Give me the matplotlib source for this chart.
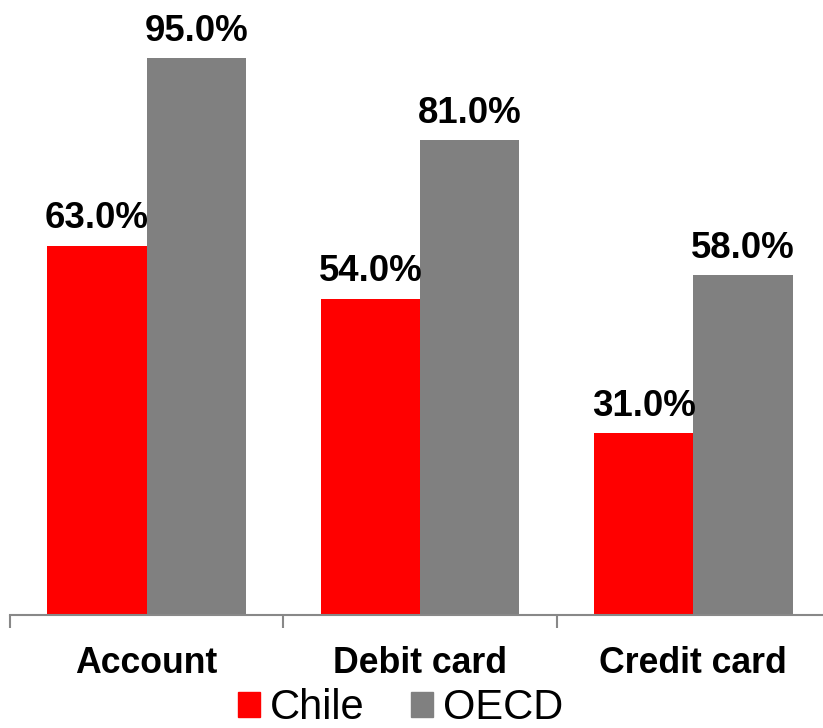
import numpy as np
import matplotlib
matplotlib.use("Agg")
import matplotlib.pyplot as plt
from matplotlib.patches import Patch

## Data

categories = ["Account", "Debit card", "Credit card"]
chile = [63.0, 54.0, 31.0]
oecd = [95.0, 81.0, 58.0]

plt.rcParams['font.family'] = ['Liberation Sans', 'DejaVu Sans']

fig = plt.figure(figsize=(8.23, 7.28), dpi=100)
ax = fig.add_axes([10/823, 113/728, 820/823, 586/728])

x = np.arange(len(categories))
w = 0.363
b1 = ax.bar(x - w/2, chile, w, color="#FF0000", label="Chile")
b2 = ax.bar(x + w/2, oecd, w, color="#808080", label="OECD")

for bars, vals in ((b1, chile), (b2, oecd)):
    for r, v in zip(bars, vals):
        ax.text(r.get_x() + r.get_width()/2, v + 3.0, "%.1f%%" % v,
                ha="center", va="baseline", fontsize=26.4, fontweight="bold")

ax.set_xlim(-0.5, 2.5)
ax.set_ylim(0, 100)
for s in ["top", "right", "left"]:
    ax.spines[s].set_visible(False)
ax.spines["bottom"].set_color("#888888")
ax.spines["bottom"].set_linewidth(1.5)
ax.set_yticks([])

# tick marks at group boundaries, labels at centers
ax.set_xticks([-0.5, 0.5, 1.5, 2.5])
ax.set_xticklabels([])
ax.tick_params(axis="x", which="major", length=9, color="#888888", width=1.5)
ax.set_xticks(x, minor=True)
ax.set_xticklabels(categories, minor=True, fontsize=25.7, fontweight="bold")
ax.tick_params(axis="x", which="minor", length=0, pad=22)

handles = [Patch(color="#FF0000", label="Chile"), Patch(color="#808080", label="OECD")]
fig.legend(handles=handles, loc="center", bbox_to_anchor=(400.5/823, 20/728), ncol=2,
           frameon=False, fontsize=30, handlelength=0.53, handleheight=0.53,
           handletextpad=0.25, columnspacing=1.1, borderaxespad=0, borderpad=0.1)

fig.savefig("out.png", dpi=100)
